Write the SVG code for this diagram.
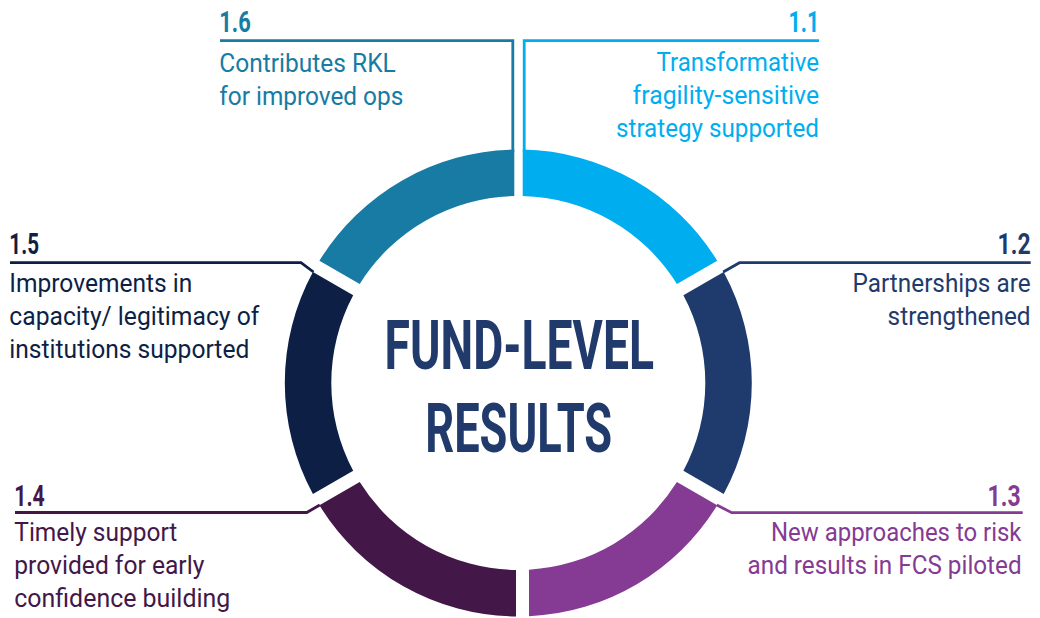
<svg xmlns="http://www.w3.org/2000/svg" width="1040" height="618" viewBox="0 0 1040 618">
<style>
.num{font-family:Roboto,"Liberation Sans",sans-serif;font-weight:700;font-size:30px}
.txt{font-family:Roboto,"Liberation Sans",sans-serif;font-weight:400;font-size:24px}
.r{text-anchor:end}
.title{font-family:Roboto,"Liberation Sans",sans-serif;font-weight:700;font-size:69px;fill:#1F3A6B}
.conn{fill:none;stroke-width:2.8;stroke-linejoin:miter}
.c11{fill:#00AEEF}.s11{stroke:#00AEEF}
.c12{fill:#1F3A6D}.s12{stroke:#1F3A6D}
.c13{fill:#853B93}.s13{stroke:#853B93}
.c14{fill:#431748}.s14{stroke:#431748}
.c15{fill:#0D1F45}.s15{stroke:#0D1F45}
.c16{fill:#187BA3}.s16{stroke:#187BA3}
</style>
<rect width="1040" height="618" fill="#FFFFFF"/>
<g id="connectors">
<polyline class="conn s16" points="220,40.7 512.8,40.7 512.8,152"/>
<polyline class="conn s11" points="819,40.7 524.2,40.7 524.2,152"/>
<polyline class="conn s15" points="10,262.7 301,262.7 313.5,272"/>
<polyline class="conn s12" points="1030.7,262.7 739.5,262.7 723.2,272"/>
<polyline class="conn s14" points="15,512.5 306.7,512.5 319.8,505"/>
<polyline class="conn s13" points="1022.7,512.7 731.7,512.7 716.8,505"/>
</g>
<g id="node-1-1">
<path class="c11" d="M522.7 149.54 A233.5 233.5 0 0 1 717.18 260.66 L676.9 283.92 A187 187 0 0 0 522.7 196.05 Z"/>
<text class="num c11 r" x="819.1" y="32.3" textLength="30.5" lengthAdjust="spacingAndGlyphs">1.1</text>
<text class="txt c11 r" transform="scale(1,1.08333)" x="819.1" y="65.54" textLength="162.5" lengthAdjust="spacingAndGlyphs">Transformative</text>
<text class="txt c11 r" transform="scale(1,1.08333)" x="819.1" y="96" textLength="186.5" lengthAdjust="spacingAndGlyphs">fragility-sensitive</text>
<text class="txt c11 r" transform="scale(1,1.08333)" x="819" y="126.46" textLength="203" lengthAdjust="spacingAndGlyphs">strategy supported</text>
</g>
<g id="node-1-2">
<path class="c12" d="M723.68 271.92 A233.5 233.5 0 0 1 723.68 494.08 L683.4 470.82 A187 187 0 0 0 683.4 295.18 Z"/>
<text class="num c12 r" x="1030.6" y="254.3" textLength="33" lengthAdjust="spacingAndGlyphs">1.2</text>
<text class="txt c12 r" transform="scale(1,1.08333)" x="1030.6" y="270" textLength="178" lengthAdjust="spacingAndGlyphs">Partnerships are</text>
<text class="txt c12 r" transform="scale(1,1.08333)" x="1030.6" y="300.46" textLength="143" lengthAdjust="spacingAndGlyphs">strengthened</text>
</g>
<g id="node-1-3">
<path class="c13" d="M717.18 505.34 A233.5 233.5 0 0 1 529 616.25 L529 569.69 A187 187 0 0 0 676.9 482.08 Z"/>
<text class="num c13 r" x="1020.6" y="506" textLength="33" lengthAdjust="spacingAndGlyphs">1.3</text>
<text class="txt c13 r" transform="scale(1,1.08333)" x="1021.5" y="499.38" textLength="250.5" lengthAdjust="spacingAndGlyphs">New approaches to risk</text>
<text class="txt c13 r" transform="scale(1,1.08333)" x="1021.6" y="529.85" textLength="274" lengthAdjust="spacingAndGlyphs">and results in FCS piloted</text>
</g>
<g id="node-1-4">
<path class="c14" d="M516 616.49 A233.5 233.5 0 0 1 319.42 505.34 L359.7 482.08 A187 187 0 0 0 516 569.99 Z"/>
<text class="num c14" x="14.3" y="506" textLength="30.5" lengthAdjust="spacingAndGlyphs">1.4</text>
<text class="txt c14" transform="scale(1,1.08333)" x="14.3" y="499.38" textLength="163" lengthAdjust="spacingAndGlyphs">Timely support</text>
<text class="txt c14" transform="scale(1,1.08333)" x="14.3" y="529.85" textLength="190" lengthAdjust="spacingAndGlyphs">provided for early</text>
<text class="txt c14" transform="scale(1,1.08333)" x="14.3" y="560.31" textLength="216" lengthAdjust="spacingAndGlyphs">confidence building</text>
</g>
<g id="node-1-5">
<path class="c15" d="M312.92 494.08 A233.5 233.5 0 0 1 312.92 271.92 L353.2 295.18 A187 187 0 0 0 353.2 470.82 Z"/>
<text class="num c15" x="9.3" y="254.3" textLength="29.7" lengthAdjust="spacingAndGlyphs">1.5</text>
<text class="txt c15" transform="scale(1,1.08333)" x="9.3" y="269.54" textLength="183" lengthAdjust="spacingAndGlyphs">Improvements in</text>
<text class="txt c15" transform="scale(1,1.08333)" x="9.3" y="300" textLength="250" lengthAdjust="spacingAndGlyphs">capacity/ legitimacy of</text>
<text class="txt c15" transform="scale(1,1.08333)" x="9.3" y="330.46" textLength="240" lengthAdjust="spacingAndGlyphs">institutions supported</text>
</g>
<g id="node-1-6">
<path class="c16" d="M319.42 260.66 A233.5 233.5 0 0 1 514.3 149.54 L514.3 196.05 A187 187 0 0 0 359.7 283.92 Z"/>
<text class="num c16" x="219.3" y="32.3" textLength="31.5" lengthAdjust="spacingAndGlyphs">1.6</text>
<text class="txt c16" transform="scale(1,1.08333)" x="219.3" y="66.46" textLength="176.5" lengthAdjust="spacingAndGlyphs">Contributes RKL</text>
<text class="txt c16" transform="scale(1,1.08333)" x="219.3" y="96.92" textLength="184" lengthAdjust="spacingAndGlyphs">for improved ops</text>
</g>
<g id="center">
<text class="title" x="384.5" y="369" textLength="269.5" lengthAdjust="spacingAndGlyphs">FUND-LEVEL</text>
<text class="title" x="425.2" y="451.7" textLength="187" lengthAdjust="spacingAndGlyphs">RESULTS</text>
</g>
</svg>
